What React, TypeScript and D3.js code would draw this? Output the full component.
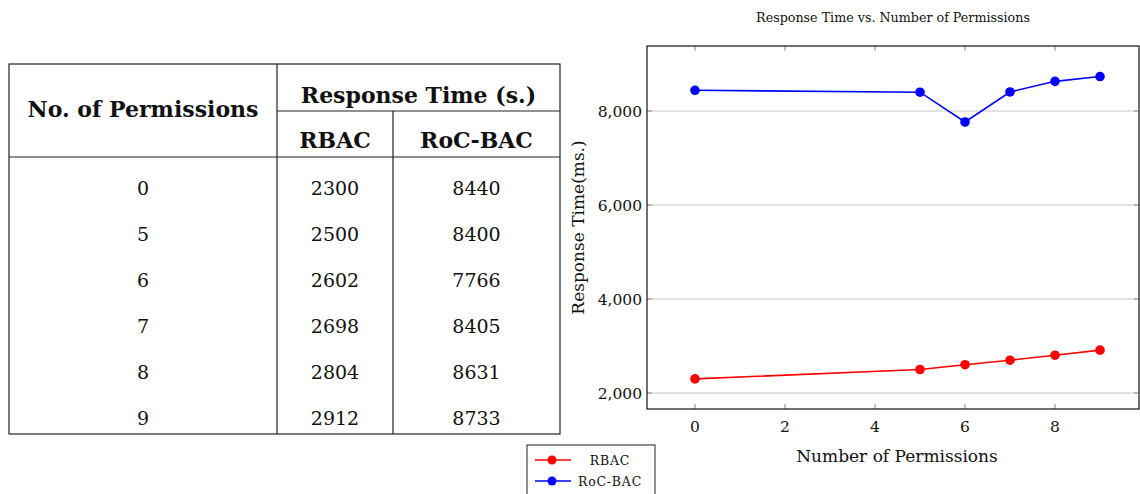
import React from "react";
import * as d3 from "d3";

const permissions = [0, 5, 6, 7, 8, 9];
const rbac = [2300, 2500, 2602, 2698, 2804, 2912];
const rocbac = [8440, 8400, 7766, 8405, 8631, 8733];
const xTicks = [0, 2, 4, 6, 8];
const yTicks = [2000, 4000, 6000, 8000];
const seriesNames = ["RBAC", "RoC-BAC"];
const seriesColors = ["#ff0000", "#0000ff"];

const FONT = "'DejaVu Serif', 'Liberation Serif', serif";

export default function App() {
  const plot = { left: 647, right: 1139, top: 46, bottom: 409 };
  const x = d3.scaleLinear().domain([-1.0667, 9.8667]).range([plot.left, plot.right]);
  const y = d3.scaleLinear().domain([1660, 9383]).range([plot.bottom, plot.top]);
  const fmt = d3.format(",");
  const line = d3
    .line<[number, number]>()
    .x((d) => x(d[0]))
    .y((d) => y(d[1]));
  const series = [rbac, rocbac];

  // table geometry
  const tL = 9, tR = 560, tT = 64, tB = 434, c1 = 277, c2 = 393;
  const hMid = 111, hBot = 157;
  const rowY0 = 188, rowStep = 46;

  return (
    <svg
      width={1140}
      height={494}
      style={{ position: "absolute", left: 0, top: 0, background: "#fff" }}
      fontFamily={FONT}
    >
      {/* Table */}
      <g stroke="#222" strokeWidth={1.2} fill="none">
        <rect x={tL} y={tT} width={tR - tL} height={tB - tT} />
        <line x1={c1} y1={tT} x2={c1} y2={tB} />
        <line x1={c2} y1={hMid} x2={c2} y2={tB} />
        <line x1={c1} y1={hMid} x2={tR} y2={hMid} />
        <line x1={tL} y1={hBot} x2={tR} y2={hBot} />
      </g>
      <g fill="#111" fontWeight="bold" fontSize={22} textAnchor="middle">
        <text x={(tL + c1) / 2} y={117}>No. of Permissions</text>
        <text x={(c1 + tR) / 2} y={103}>Response Time (s.)</text>
        <text x={(c1 + c2) / 2} y={148}>RBAC</text>
        <text x={(c2 + tR) / 2} y={148}>RoC-BAC</text>
      </g>
      <g fill="#111" fontSize={19} textAnchor="middle">
        {permissions.map((p, i) => (
          <g key={i}>
            <text x={(tL + c1) / 2} y={rowY0 + i * rowStep + 7}>{p}</text>
            <text x={(c1 + c2) / 2} y={rowY0 + i * rowStep + 7}>{rbac[i]}</text>
            <text x={(c2 + tR) / 2} y={rowY0 + i * rowStep + 7}>{rocbac[i]}</text>
          </g>
        ))}
      </g>

      {/* Chart */}
      <text x={(plot.left + plot.right) / 2} y={22} textAnchor="middle" fontSize={12.7} fill="#111">
        Response Time vs. Number of Permissions
      </text>
      {yTicks.map((t) => (
        <line key={t} x1={plot.left} x2={plot.right} y1={y(t)} y2={y(t)} stroke="#c8c8c8" strokeWidth={1} />
      ))}
      {/* ticks */}
      <g stroke="#888" strokeWidth={1}>
        {xTicks.map((t) => (
          <g key={t}>
            <line x1={x(t)} x2={x(t)} y1={plot.bottom} y2={plot.bottom - 5} />
            <line x1={x(t)} x2={x(t)} y1={plot.top} y2={plot.top + 5} />
          </g>
        ))}
        {yTicks.map((t) => (
          <g key={t}>
            <line x1={plot.left} x2={plot.left + 5} y1={y(t)} y2={y(t)} />
            <line x1={plot.right} x2={plot.right - 5} y1={y(t)} y2={y(t)} />
          </g>
        ))}
      </g>
      <rect
        x={plot.left}
        y={plot.top}
        width={plot.right - plot.left}
        height={plot.bottom - plot.top}
        fill="none"
        stroke="#111"
        strokeWidth={1.2}
      />
      <g fontSize={15.5} fill="#111">
        {xTicks.map((t) => (
          <text key={t} x={x(t)} y={432} textAnchor="middle">{t}</text>
        ))}
        {yTicks.map((t) => (
          <text key={t} x={642} y={y(t) + 6} textAnchor="end">{fmt(t)}</text>
        ))}
      </g>
      <text x={897} y={462} textAnchor="middle" fontSize={17} fill="#111">
        Number of Permissions
      </text>
      <text
        transform={`translate(584, ${(plot.top + plot.bottom) / 2}) rotate(-90)`}
        textAnchor="middle"
        fontSize={17}
        fill="#111"
      >
        Response Time(ms.)
      </text>
      {series.map((vals, si) => {
        const pts = permissions.map((p, i) => [p, vals[i]] as [number, number]);
        return (
          <g key={si}>
            <path d={line(pts) || ""} fill="none" stroke={seriesColors[si]} strokeWidth={1.6} />
            {pts.map((d, i) => (
              <circle key={i} cx={x(d[0])} cy={y(d[1])} r={4.8} fill={seriesColors[si]} />
            ))}
          </g>
        );
      })}

      {/* Legend */}
      <rect x={527} y={445} width={128} height={54} fill="#fff" stroke="#222" strokeWidth={1} />
      {seriesNames.map((n, i) => (
        <g key={n}>
          <line x1={535} x2={571} y1={460 + i * 21} y2={460 + i * 21} stroke={seriesColors[i]} strokeWidth={1.6} />
          <circle cx={552} cy={460 + i * 21} r={4.5} fill={seriesColors[i]} />
          <text x={610} y={465 + i * 21} textAnchor="middle" fontSize={12.5} letterSpacing={0.8} fill="#111">{n}</text>
        </g>
      ))}
    </svg>
  );
}
